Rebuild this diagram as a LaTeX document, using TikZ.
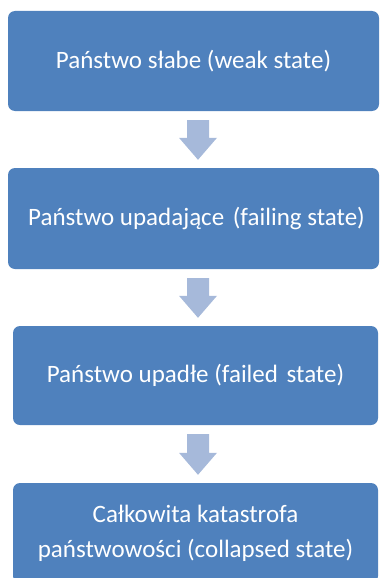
\documentclass[tikz,border=0pt]{standalone}
\usepackage{fontspec}
\setmainfont{Carlito}
\usetikzlibrary{calc}
\definecolor{boxblue}{HTML}{4F81BD}
\definecolor{arrowc}{HTML}{A6B9DA}
\newcommand\flowarrow[2]{%
  \fill[arrowc] let \p1=(#1.south), \p2=(#2.north) in
    (198pt-11pt,\y1-9pt) -- (198pt+11pt,\y1-9pt) -- (198pt+11pt,\y2+30pt)
    -- (198pt+19pt,\y2+30pt) -- (198pt,\y2+8pt) -- (198pt-19pt,\y2+30pt)
    -- (198pt-11pt,\y2+30pt) -- cycle;}
\begin{document}
\begin{tikzpicture}[x=1pt,y=1pt,
  stagebox/.style={fill=boxblue, rounded corners=7pt, inner sep=0pt,
    text=white, align=center, font=\fontsize{25}{35}\selectfont}]
\useasboundingbox (0,0) rectangle (380,-578);
\node[stagebox, minimum width=371pt, minimum height=100pt] (b1) at (193.5,-61)
  {\raisebox{-2pt}{Państwo słabe (weak state)}};
\node[stagebox, minimum width=371pt, minimum height=101pt] (b2) at (193.5,-218.5)
  {\raisebox{-2pt}{Państwo upadające\ \hspace{3pt}(failing state)}\hspace*{-6pt}};
\node[stagebox, minimum width=365pt, minimum height=99pt] (b3) at (195.5,-375.5)
  {\raisebox{-2pt}{Państwo upadłe (failed\ \hspace{3pt}state)}};
\node[stagebox, minimum width=365pt, minimum height=100pt] (b4) at (195.5,-533)
  {\raisebox{-5pt}{\begin{tabular}{@{}c@{}}Całkowita katastrofa\\państwowości (collapsed state)\end{tabular}}};
\flowarrow{b1}{b2}
\flowarrow{b2}{b3}
\flowarrow{b3}{b4}
\end{tikzpicture}
\end{document}
